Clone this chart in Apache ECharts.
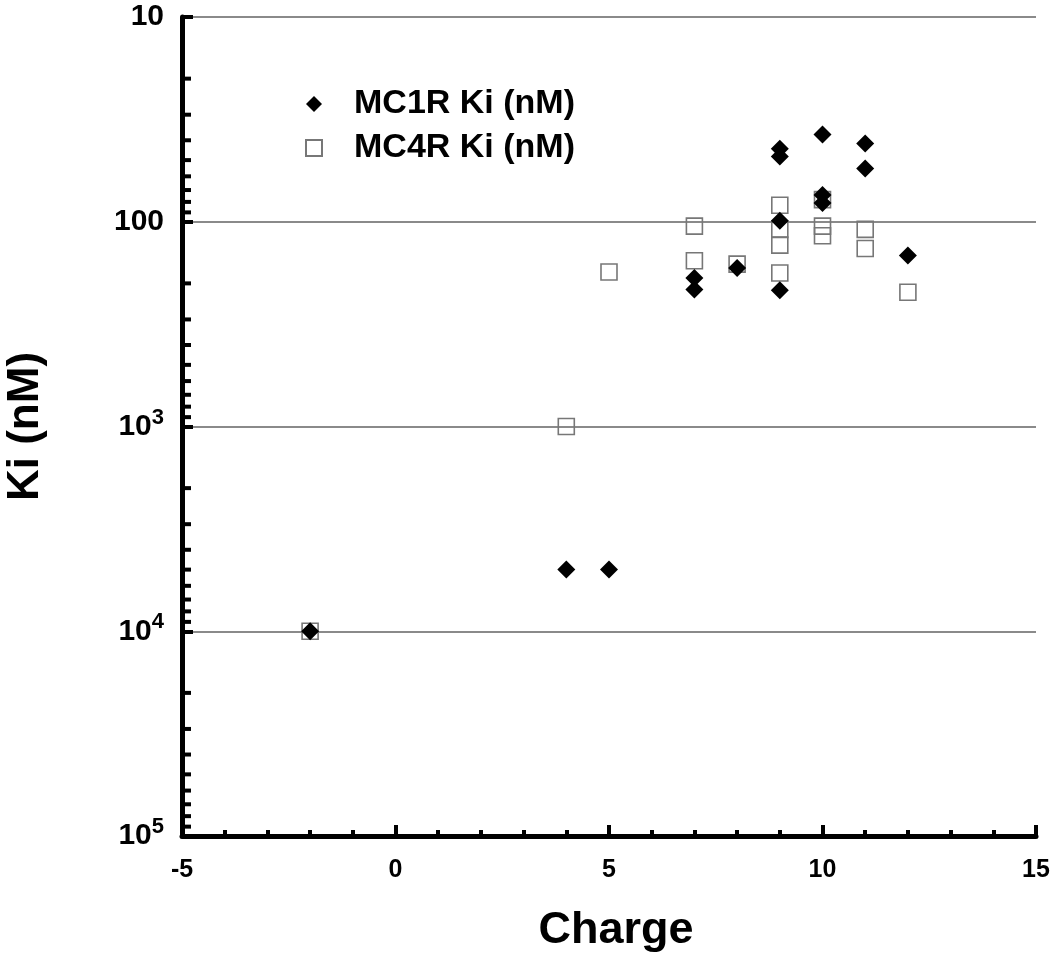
<!DOCTYPE html>
<html>
<head>
<meta charset="utf-8">
<script src="https://cdn.jsdelivr.net/npm/echarts@6/dist/echarts.min.js"></script>
<style>
html,body{margin:0;padding:0;background:#fff;}
#chart{width:1050px;height:957px;}
</style>
</head>
<body>
<div id="chart"></div>
<script>
// ---- data ----
const seriesNames = ['MC1R Ki (nM)', 'MC4R Ki (nM)'];
const mc1rCharge = [-2, 4, 5, 7, 7, 8, 9, 9, 9, 9, 10, 10, 10, 11, 11, 12];
const mc1rKi     = [10000, 5000, 5000, 188, 214, 168, 44, 48, 99, 216, 37.5, 74, 81, 41.5, 55, 146];
const mc4rCharge = [-2, 4, 5, 7, 7, 8, 9, 9, 9, 9, 10, 10, 10, 11, 11, 12];
const mc4rKi     = [10000, 1000, 176, 105, 155, 161, 83, 109, 130, 178, 78, 105, 117, 109, 135, 221];

const xTicks = [-5, 0, 5, 10, 15];
const yDecades = [10, 100, 1000, 10000, 100000];
const yMinorSteps = [2, 3, 4, 5, 6, 7, 8, 9];

const X_MIN = xTicks[0], X_MAX = xTicks[xTicks.length - 1];
const Y_MIN = yDecades[0], Y_MAX = yDecades[yDecades.length - 1];

const minorTickData = [];
for (let i = 0; i < yDecades.length - 1; i++) {
  for (const s of yMinorSteps) minorTickData.push([X_MIN, yDecades[i] * s]);
}

const FONT = '"Liberation Sans", Arial, Helvetica, sans-serif';
const zip = (a, b) => a.map((v, i) => [v, b[i]]);

const chart = echarts.init(document.getElementById('chart'), null, {renderer: 'canvas'});
chart.setOption({
  backgroundColor: '#fff',
  animation: false,
  grid: {left: 182, right: 14, top: 17, bottom: 121, containLabel: false, outerBoundsMode: 'none'},
  legend: {
    data: seriesNames,
    orient: 'vertical',
    left: 300,
    top: 82,
    itemWidth: 16,
    itemHeight: 16,
    itemGap: 10,
    textStyle: {fontFamily: FONT, fontWeight: 'bold', fontSize: 34, color: '#000', padding: [0, 0, 0, 27]}
  },
  xAxis: {
    type: 'value',
    min: X_MIN, max: X_MAX, interval: 5,
    name: 'Charge',
    nameLocation: 'middle',
    nameGap: 72,
    nameTextStyle: {fontFamily: FONT, fontWeight: 'bold', fontSize: 45, color: '#000', padding: [0, 0, 0, 14]},
    axisLine: {show: true, onZero: false, lineStyle: {color: '#000', width: 5}},
    axisTick: {show: true, inside: true, length: 11, lineStyle: {color: '#000', width: 4}},
    minorTick: {show: true, splitNumber: 5, length: 6, lineStyle: {color: '#000', width: 4}},
    splitLine: {show: false},
    axisLabel: {fontFamily: FONT, fontWeight: 'bold', fontSize: 25, color: '#000', margin: 22}
  },
  yAxis: {
    type: 'log',
    logBase: 10,
    inverse: true,
    min: Y_MIN, max: Y_MAX,
    name: 'Ki (nM)',
    nameLocation: 'middle',
    nameRotate: 90,
    nameGap: 134,
    nameTextStyle: {fontFamily: FONT, fontWeight: 'bold', fontSize: 44, color: '#000'},
    axisLine: {show: true, onZero: false, lineStyle: {color: '#000', width: 5}},
    axisTick: {show: true, inside: true, length: 11, lineStyle: {color: '#000', width: 4}},
    splitLine: {show: true, lineStyle: {color: '#8a8a8a', width: 2}},
    axisLabel: {
      margin: 18,
      formatter: function (v) {
        const e = Math.round(Math.log10(v));
        if (e <= 2) return '{b|' + v + '}';
        return '{b|10}{s|' + e + '}';
      },
      rich: {
        b: {fontFamily: FONT, fontWeight: 'bold', fontSize: 30, color: '#000', lineHeight: 30},
        s: {fontFamily: FONT, fontWeight: 'bold', fontSize: 22, color: '#000', verticalAlign: 'bottom', padding: [0, 0, 18, 0]}
      }
    }
  },
  series: [
    {
      name: seriesNames[0],
      type: 'scatter',
      symbol: 'diamond',
      symbolSize: 18,
      z: 4,
      itemStyle: {color: '#000', opacity: 1},
      data: zip(mc1rCharge, mc1rKi)
    },
    {
      name: seriesNames[1],
      type: 'scatter',
      symbol: 'rect',
      symbolSize: 16,
      z: 3,
      itemStyle: {color: 'rgba(255,255,255,0)', borderColor: '#777777', borderWidth: 1.6, opacity: 1},
      data: zip(mc4rCharge, mc4rKi)
    },
    {
      name: 'yMinorTicks',
      type: 'custom',
      silent: true,
      clip: false,
      z: 5,
      renderItem: function (params, api) {
        const p = api.coord([api.value(0), api.value(1)]);
        return {type: 'line', shape: {x1: p[0], y1: p[1], x2: p[0] + 9, y2: p[1]}, style: {stroke: '#000', lineWidth: 4}};
      },
      encode: {x: 0, y: 1},
      data: minorTickData
    }
  ]
});
</script>
</body>
</html>
